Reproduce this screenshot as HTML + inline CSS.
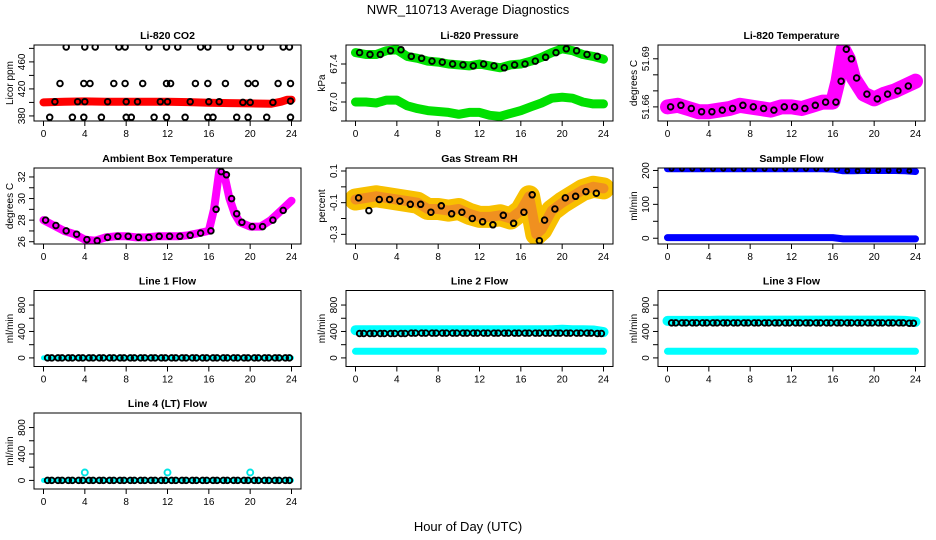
<!DOCTYPE html>
<html><head><meta charset="utf-8"><style>
body{margin:0;background:#fff;}
svg{display:block;font-family:"Liberation Sans",Arial,sans-serif;}
</style></head><body>
<svg id="chart" width="936" height="540" viewBox="0 0 936 540" xmlns="http://www.w3.org/2000/svg">
<rect width="936" height="540" fill="#fff"/>
<text x="468" y="14" font-size="13" text-anchor="middle">NWR_110713  Average Diagnostics</text>
<text x="468" y="531" font-size="13" text-anchor="middle">Hour of Day (UTC)</text>
</svg>
<script>
const xTicks=[0,4,8,12,16,20,24];
// CO2
const co2BandH=[0,2,4,6,8,10,12,14,16,18,20,22,23,23.6,24];
const co2BandV=[400,401,401.5,401,401,401,401,400.5,399.5,399,398.5,398,401,404,404];
const co2PtH=[1.1,3.3,4,6.2,8,9.1,11.3,12,14.2,16,17,19.3,20,22.2,23.9,2.2,4,5,7.3,7.9,10.2,11.9,13,15.2,15.9,18.1,19.8,21,23.2,23.8,1.6,3.9,4.5,6.8,7.9,9.6,11.9,12.3,14.7,15.9,17.6,19.8,20.5,22.7,23.9,0.6,2.8,3.9,5.6,8,8.5,10.7,11.9,13.7,15.9,16.4,18.7,19.8,21.6,23.9];
const co2PtV=[401,401,401,401,401,401,401,401,401,401,401,400,400,400,402,482,482,482,482,482,482,482,482,482,482,482,482,482,482,482,428,428,428,428,428,428,428,428,428,428,428,428,428,428,428,378,378,378,378,378,378,378,378,378,378,378,378,378,378,378];
// Pressure
const hourly=[0,1,2,3,4,5,6,7,8,9,10,11,12,13,14,15,16,17,18,19,20,21,22,23,24];
const presHi=[67.52,67.50,67.50,67.54,67.55,67.48,67.46,67.43,67.42,67.40,67.39,67.38,67.40,67.38,67.36,67.39,67.40,67.43,67.47,67.52,67.56,67.54,67.50,67.48,67.45];
const presLo=[67.00,67.00,66.99,67.02,67.02,66.96,66.93,66.91,66.90,66.89,66.87,66.89,66.89,66.86,66.85,66.88,66.91,66.95,66.99,67.04,67.05,67.04,67.00,66.98,66.98];
// Li-820 temperature
const ltH=[0,1,2,3,4,5,6,7,8,9,10,11,12,13,14,15,16,16.5,17,17.5,18,19,20,21,22,23,24];
const ltV=[51.660,51.661,51.659,51.657,51.657,51.658,51.659,51.661,51.660,51.659,51.658,51.660,51.660,51.659,51.661,51.663,51.663,51.676,51.696,51.690,51.678,51.668,51.665,51.668,51.670,51.673,51.676];
// Ambient box temperature
const abH=[0,1,2,3,4,5,6,7,8,9,10,11,12,13,14,15,16,16.5,17,17.5,18,18.5,19,20,21,22,23,24];
const abV=[28.0,27.5,27.0,26.7,26.2,26.1,26.4,26.5,26.5,26.4,26.4,26.5,26.5,26.5,26.6,26.8,27.0,29.0,32.5,32.2,30.0,28.6,27.8,27.4,27.4,28.0,28.9,29.8];
// Gas stream RH
const rhH=[0,1,2,3,4,5,6,7,8,9,10,11,12,13,14,15,16,16.8,17.5,18,19,20,21,22,23,24];
const rhV=[-0.08,-0.07,-0.06,-0.07,-0.08,-0.09,-0.10,-0.14,-0.14,-0.15,-0.14,-0.17,-0.19,-0.19,-0.18,-0.20,-0.15,-0.06,-0.30,-0.27,-0.15,-0.10,-0.06,-0.02,0.00,-0.01];
const rhPtV=[-0.07,-0.15,-0.08,-0.08,-0.09,-0.11,-0.11,-0.16,-0.12,-0.17,-0.16,-0.2,-0.22,-0.24,-0.18,-0.23,-0.16,-0.05,-0.34,-0.21,-0.14,-0.07,-0.06,-0.03,-0.04,-0.03];
// Sample flow
const sfHi=[205,205,205,205,205,205,205,205,205,205,205,205,205,205,205,205,204,199,199,200,200,200,200,199,197];
const sfLo=[2,2,2,2,2,2,2,2,2,2,2,2,2,2,2,2,2,-2,-2,-2,-2,-2,-2,-2,-2];
// Line flows
const l1V=[0,0,0,0,0,0,0,0,0,0,0,0,0,0,0,0,0,0,0,0,0,0,0,0,0];
const l2Hi=[420,420,420,420,420,420,420,420,420,420,420,420,420,420,420,420,420,420,420,420,425,420,420,415,390];
const l2Pt=[370,370,370,370,370,375,375,375,375,375,375,375,375,375,375,375,375,375,375,375,375,375,375,370,365];
const l2Lo=[100,100,100,100,100,100,100,100,100,100,100,100,100,100,100,100,100,100,100,100,100,100,100,100,100];
const l3Hi=[560,560,560,560,560,565,565,565,565,565,565,565,565,565,565,565,565,565,565,565,565,565,565,560,545];
const l3Pt=[530,530,530,530,530,530,530,530,530,530,530,530,530,530,530,530,530,530,530,530,530,530,530,525,520];
const l3Lo=[100,100,100,100,100,100,100,100,100,100,100,100,100,100,100,100,100,100,100,100,100,100,100,100,100];
const l4OutH=[4,12,20];
const l4OutV=[120,120,120];

const NS="http://www.w3.org/2000/svg";
const svg=document.getElementById('chart');
const colX=[34,346,658], rowY=[45,168,290.5,413], PW=267, PH=76;
function mk(tag,attrs,parent){const e=document.createElementNS(NS,tag);for(const k in attrs)e.setAttribute(k,attrs[k]);(parent||svg).appendChild(e);return e;}

function panel(p){
  const L=colX[p.col],T=rowY[p.row];
  const g=mk('g',{});
  
  
  const xs=h=>L+(h+0.92)/(25.84)*PW;
  const ys=v=>T+PH-(v-p.dom[0])/(p.dom[1]-p.dom[0])*PH;
  const t=mk('text',{x:L+PW/2,y:T-6,'font-size':10.5,'font-weight':'bold','text-anchor':'middle'},g);
  t.textContent=p.title;
  
  
  const clip='c'+p.col+p.row;
  const cp=mk('clipPath',{id:clip},g);mk('rect',{x:L,y:T,width:PW,height:PH},cp);
  const dg=mk('g',{'clip-path':'url(#'+clip+')'},g);
  p.series.forEach(s=>{
    if(s.type==='band'){
      const d=s.h.map((h,i)=>(i?'L':'M')+xs(h).toFixed(1)+','+ys(s.v[i]).toFixed(1)).join('');
      const path=mk('path',{d:d,fill:'none',stroke:s.color,'stroke-width':s.w,'stroke-linecap':'round','stroke-linejoin':'round'},dg);
      
      
    } else {
      s.h.forEach((h,i)=>{
        const hh=h+(s.off||0);
        if(hh>24.05)return;
        const c=mk('circle',{cx:xs(hh).toFixed(1),cy:ys(s.v[i]).toFixed(1),r:s.r||2.8,fill:'none',stroke:s.color,'stroke-width':s.sw||1.9},dg);
        
        
      });
    }
  });
  mk('rect',{x:L,y:T,width:PW,height:PH,fill:'none',stroke:'#000','stroke-width':1},g);
  const xa=mk('g',{},g);
  
  
  xTicks.forEach(v=>{
    mk('line',{x1:xs(v),x2:xs(v),y1:T+PH,y2:T+PH+5,stroke:'#000'},xa);
    const tx=mk('text',{x:xs(v),y:T+PH+16,'font-size':10,'text-anchor':'middle'},xa);tx.textContent=v;
  });
  const ya=mk('g',{},g);
  
  
  p.ticks.forEach((v,i)=>{
    mk('line',{x1:L-5,x2:L,y1:ys(v),y2:ys(v),stroke:'#000'},ya);
    if(p.labels[i]!==''){const tx=mk('text',{x:0,y:0,'font-size':10,'text-anchor':'middle',transform:`translate(${L-9},${ys(v)}) rotate(-90)`},ya);tx.textContent=p.labels[i];}
  });
  const yl=mk('text',{x:0,y:0,'font-size':10,'text-anchor':'middle',transform:`translate(${L-21},${T+PH/2}) rotate(-90)`},g);
  yl.textContent=p.ylab;
  
  
}
const flowTicks=[0,200,400,600,800],flowLab=['0','','400','','800'];
panel({name:'co2-panel',col:0,row:0,title:'Li-820 CO2',ylab:'Licor ppm',dom:[372.5,485],ticks:[380,400,420,440,460,480],labels:['380','','420','','460',''],
 series:[{type:'band',h:co2BandH,v:co2BandV,color:'#f00',w:8},{type:'pts',h:co2PtH,v:co2PtV,color:'#000'}]});
panel({name:'pressure-panel',col:1,row:0,title:'Li-820 Pressure',ylab:'kPa',dom:[66.80,67.60],ticks:[66.8,67.0,67.2,67.4],labels:['','67.0','','67.4'],
 series:[{type:'band',h:hourly,v:presHi,color:'#00e000',w:9},{type:'band',h:hourly,v:presLo,color:'#00e000',w:9},{type:'pts',h:hourly,v:presHi,color:'#000',off:0.4}]});
panel({name:'li820-temp-panel',col:2,row:0,title:'Li-820 Temperature',ylab:'degrees C',dom:[51.6512,51.6986],ticks:[51.66,51.67,51.68,51.69],labels:['51.66','','','51.69'],
 series:[{type:'band',h:ltH,v:ltV,color:'#ff00ff',w:15},{type:'pts',h:ltH,v:ltV,color:'#000',off:0.3}]});
panel({name:'ambient-temp-panel',col:0,row:1,title:'Ambient Box Temperature',ylab:'degrees C',dom:[25.79,32.83],ticks:[26,27,28,29,30,31,32],labels:['26','','28','','30','','32'],
 series:[{type:'band',h:abH,v:abV,color:'#ff00ff',w:8},{type:'pts',h:abH,v:abV,color:'#000',off:0.2}]});
panel({name:'rh-panel',col:1,row:1,title:'Gas Stream RH',ylab:'percent',dom:[-0.361,0.119],ticks:[-0.3,-0.2,-0.1,0,0.1],labels:['-0.3','','-0.1','','0.1'],
 series:[{type:'band',h:rhH,v:rhV,color:'#f8c000',w:22},{type:'band',h:rhH,v:rhV,color:'#f09020',w:10},{type:'pts',h:rhH,v:rhPtV,color:'#000',off:0.3}]});
panel({name:'sample-flow-panel',col:2,row:1,title:'Sample Flow',ylab:'ml/min',dom:[-17,207.3],ticks:[0,50,100,150,200],labels:['0','','100','','200'],
 series:[{type:'band',h:hourly,v:sfHi,color:'#0000ff',w:7},{type:'band',h:hourly,v:sfLo,color:'#0000ff',w:7},{type:'pts',h:hourly,v:sfHi,color:'#000',off:0.4,r:2}]});
panel({name:'line1-flow-panel',col:0,row:2,title:'Line 1 Flow',ylab:'ml/min',dom:[-130,1020],ticks:flowTicks,labels:flowLab,
 series:[{type:'band',h:hourly,v:l1V,color:'#00ffff',w:5},{type:'pts',h:hourly,v:l1V,color:'#000',off:0.4},{type:'pts',h:hourly,v:l1V,color:'#000',off:0.8}]});
panel({name:'line2-flow-panel',col:1,row:2,title:'Line 2 Flow',ylab:'ml/min',dom:[-130,1020],ticks:flowTicks,labels:flowLab,
 series:[{type:'band',h:hourly,v:l2Hi,color:'#00ffff',w:10},{type:'band',h:hourly,v:l2Lo,color:'#00ffff',w:7},{type:'pts',h:hourly,v:l2Pt,color:'#000',off:0.4},{type:'pts',h:hourly,v:l2Pt,color:'#000',off:0.8}]});
panel({name:'line3-flow-panel',col:2,row:2,title:'Line 3 Flow',ylab:'ml/min',dom:[-130,1020],ticks:flowTicks,labels:flowLab,
 series:[{type:'band',h:hourly,v:l3Hi,color:'#00ffff',w:10},{type:'band',h:hourly,v:l3Lo,color:'#00ffff',w:7},{type:'pts',h:hourly,v:l3Pt,color:'#000',off:0.4},{type:'pts',h:hourly,v:l3Pt,color:'#000',off:0.8}]});
panel({name:'line4-flow-panel',col:0,row:3,title:'Line 4 (LT) Flow',ylab:'ml/min',dom:[-130,1020],ticks:flowTicks,labels:flowLab,
 series:[{type:'band',h:hourly,v:l1V,color:'#00ffff',w:5},{type:'pts',h:l4OutH,v:l4OutV,color:'#00e5e5',r:3},{type:'pts',h:hourly,v:l1V,color:'#000',off:0.4},{type:'pts',h:hourly,v:l1V,color:'#000',off:0.8}]});
</script>
</body></html>
